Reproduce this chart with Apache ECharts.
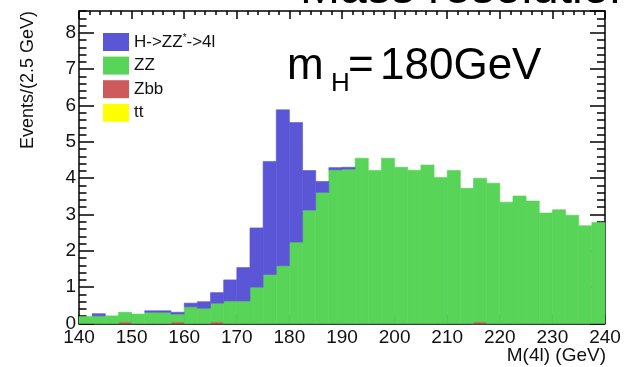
<!DOCTYPE html>
<html>
<head>
<meta charset="utf-8">
<script src="https://cdn.jsdelivr.net/npm/echarts@6/dist/echarts.min.js"></script>
<style>
  html, body { margin: 0; padding: 0; background: #fff; }
  #chart { width: 625px; height: 367px; }
</style>
</head>
<body>
<div id="chart"></div>
<script>
// Four-lepton invariant mass, stacked per 2.5 GeV bin (m_H = 180 GeV sample)
const binWidth = 2.5;
const binLow = [
  140, 142.5, 145, 147.5, 150, 152.5, 155, 157.5, 160, 162.5,
  165, 167.5, 170, 172.5, 175, 177.5, 180, 182.5, 185, 187.5,
  190, 192.5, 195, 197.5, 200, 202.5, 205, 207.5, 210, 212.5,
  215, 217.5, 220, 222.5, 225, 227.5, 230, 232.5, 235, 237.5
];

// Events per bin for each process (stack order: tt, Zbb, ZZ, signal)
const ttEvents = [
  0, 0, 0, 0, 0, 0, 0, 0, 0, 0,
  0, 0, 0, 0, 0, 0, 0, 0, 0, 0,
  0, 0, 0, 0, 0, 0, 0, 0, 0, 0,
  0, 0, 0, 0, 0, 0, 0, 0, 0, 0
];
const zbbEvents = [
  0, 0, 0, 0.04, 0, 0, 0, 0.04, 0, 0,
  0.04, 0, 0, 0, 0, 0, 0, 0, 0, 0,
  0, 0, 0, 0, 0, 0, 0, 0, 0, 0,
  0.04, 0, 0, 0, 0, 0, 0, 0, 0, 0
];
const zzEvents = [
  0.19, 0.21, 0.21, 0.27, 0.26, 0.31, 0.31, 0.22, 0.46, 0.42,
  0.52, 0.62, 0.62, 1.00, 1.35, 1.59, 2.24, 3.12, 3.61, 4.23,
  4.25, 4.55, 4.21, 4.55, 4.30, 4.22, 4.36, 4.02, 4.21, 3.72,
  3.96, 3.86, 3.34, 3.51, 3.37, 3.04, 3.13, 2.98, 2.69, 2.78
];
const higgsEvents = [
  0, 0.06, 0, 0, 0, 0.04, 0.04, 0.05, 0.10, 0.18,
  0.29, 0.58, 0.92, 1.63, 3.11, 4.29, 3.29, 1.09, 0.30, 0.06,
  0.05, 0, 0, 0, 0, 0, 0, 0, 0, 0,
  0, 0, 0, 0, 0, 0, 0, 0, 0, 0
];

const processNames = ['tt', 'Zbb', 'ZZ', 'H->ZZ*->4l'];
const processColors = ['#ffff00', '#cd5b5b', '#58d458', '#5a56d6'];
const processEvents = [ttEvents, zbbEvents, zzEvents, higgsEvents];

const yTicks = [0, 1, 2, 3, 4, 5, 6, 7, 8];

// Build stacked [low, base, top] triples for each process
const stackBase = binLow.map(() => 0);
const stackedData = processEvents.map(values => values.map((v, i) => {
  const base = stackBase[i];
  stackBase[i] = base + v;
  return [binLow[i], base, base + v];
}));

function renderBin(params, api) {
  const base = api.value(1);
  const top = api.value(2);
  if (top - base <= 0) return null;
  const p0 = api.coord([api.value(0), base]);
  const p1 = api.coord([api.value(0) + binWidth, top]);
  const color = api.visual('color');
  return {
    type: 'rect',
    shape: { x: p0[0], y: p1[1], width: p1[0] - p0[0], height: p0[1] - p1[1] },
    style: { fill: color, stroke: color, lineWidth: 0.6 }
  };
}

const textColor = '#111';
const axisFont = 'Liberation Sans, Arial, Helvetica, sans-serif';
const lineStyle = { color: '#000', width: 1.5 };

const series = processNames.map((name, k) => ({
  name: name,
  type: 'custom',
  renderItem: renderBin,
  xAxisIndex: 0,
  yAxisIndex: 0,
  itemStyle: { color: processColors[k] },
  encode: { x: 0, y: [1, 2] },
  data: stackedData[k],
  z: 2
}));

const chart = echarts.init(document.getElementById('chart'), null, { renderer: 'canvas' });
chart.setOption({
  animation: false,
  backgroundColor: '#fff',
  grid: { left: 79, right: 20, top: 11, bottom: 43.5, containLabel: false },
  xAxis: [
    {
      type: 'value', position: 'bottom', min: 140, max: 240, interval: 10,
      axisLine: { show: true, onZero: false, lineStyle: lineStyle },
      axisTick: { show: true, inside: true, length: 9, lineStyle: lineStyle },
      minorTick: { show: true, splitNumber: 5, length: 4.5, lineStyle: lineStyle },
      axisLabel: { margin: 5, fontSize: 19, fontFamily: axisFont, color: textColor },
      splitLine: { show: false }, minorSplitLine: { show: false }
    },
    {
      type: 'value', position: 'top', min: 140, max: 240, interval: 10,
      axisLine: { show: true, onZero: false, lineStyle: lineStyle },
      axisTick: { show: true, inside: true, length: 8, lineStyle: lineStyle },
      minorTick: { show: true, splitNumber: 5, length: 4, lineStyle: lineStyle },
      axisLabel: { show: false },
      splitLine: { show: false }
    }
  ],
  yAxis: [
    {
      type: 'value', position: 'left', min: 0, max: 8.6, interval: 1,
      axisLine: { show: true, onZero: false, lineStyle: lineStyle },
      axisTick: { show: true, inside: true, length: 15, lineStyle: lineStyle },
      axisLabel: {
        margin: 3, fontSize: 19, fontFamily: axisFont, color: textColor,
        showMaxLabel: false,
        formatter: v => (yTicks.indexOf(v) >= 0 ? String(v) : '')
      },
      splitLine: { show: false }
    },
    {
      type: 'value', position: 'left', min: 0, max: 8.6, interval: 0.2,
      axisLine: { show: false },
      axisTick: { show: true, inside: true, length: 7.5, lineStyle: lineStyle },
      axisLabel: { show: false },
      splitLine: { show: false }
    },
    {
      type: 'value', position: 'right', min: 0, max: 8.6, interval: 1,
      axisLine: { show: true, onZero: false, lineStyle: lineStyle },
      axisTick: { show: true, inside: true, length: 15, lineStyle: lineStyle },
      axisLabel: { show: false },
      splitLine: { show: false }
    },
    {
      type: 'value', position: 'right', min: 0, max: 8.6, interval: 0.2,
      axisLine: { show: false },
      axisTick: { show: true, inside: true, length: 8, lineStyle: lineStyle },
      axisLabel: { show: false },
      splitLine: { show: false }
    }
  ],
  legend: {
    data: processNames.slice().reverse(),
    orient: 'vertical',
    left: 103, top: 33, padding: 0,
    itemWidth: 26, itemHeight: 18, itemGap: 5.6,
    icon: 'rect',
    selectedMode: false,
    formatter: name => name === 'H->ZZ*->4l' ? '{a|H->ZZ}{s|*}{a|->4l}' : '{a|' + name + '}',
    textStyle: {
      color: textColor, fontFamily: axisFont, fontSize: 17,
      rich: {
        a: { fontSize: 17, fontFamily: axisFont, color: textColor, lineHeight: 18 },
        s: { fontSize: 10, fontFamily: axisFont, color: textColor, lineHeight: 18, verticalAlign: 'top' }
      }
    }
  },
  graphic: [
    { type: 'text', x: 300, y: -10, z: 10,
      style: { text: 'Mass resolution', font: '48px Liberation Sans, Arial, sans-serif', fill: '#000', verticalAlign: 'middle' } },
    { type: 'text', x: 287, y: 66.5, z: 10,
      style: { text: 'm', font: '44px Liberation Sans, Arial, sans-serif', fill: '#000', verticalAlign: 'middle' } },
    { type: 'text', x: 331, y: 84, z: 10,
      style: { text: 'H', font: '26px Liberation Sans, Arial, sans-serif', fill: '#000', verticalAlign: 'middle' } },
    { type: 'text', x: 348, y: 66.5, z: 10,
      style: { text: '=', font: '44px Liberation Sans, Arial, sans-serif', fill: '#000', verticalAlign: 'middle' } },
    { type: 'text', x: 380, y: 66.5, z: 10,
      style: { text: '180GeV', font: '44px Liberation Sans, Arial, sans-serif', fill: '#000', verticalAlign: 'middle' } },
    { type: 'text', x: 28, y: 80, rotation: Math.PI / 2, z: 10,
      style: { text: 'Events/(2.5 GeV)', font: '18px Liberation Sans, Arial, sans-serif', fill: textColor, align: 'center', verticalAlign: 'middle' } },
    { type: 'text', x: 606, y: 356, z: 10,
      style: { text: 'M(4l) (GeV)', font: '19px Liberation Sans, Arial, sans-serif', fill: textColor, align: 'right', verticalAlign: 'middle' } }
  ],
  series: series
});
</script>
</body>
</html>
